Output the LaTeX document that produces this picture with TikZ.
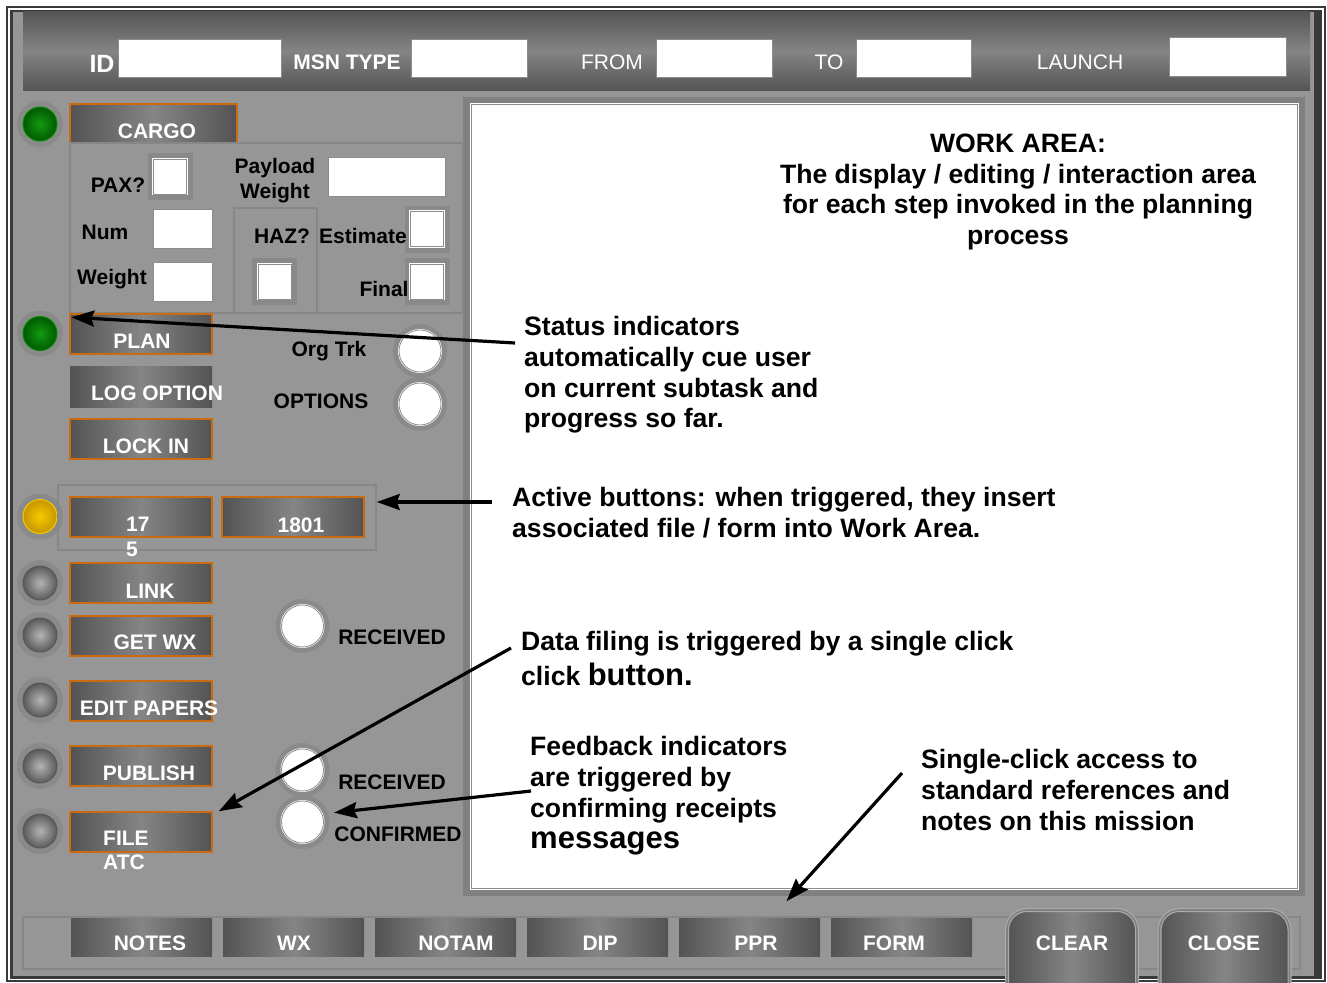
\documentclass[tikz,border=0pt]{standalone}
\usepackage{fontspec}
\setmainfont{Liberation Sans}
\usetikzlibrary{arrows.meta,positioning,calc}
\definecolor{framedark}{HTML}{3A3A3A}
\definecolor{panelgray}{HTML}{969696}
\definecolor{wellgray}{HTML}{808080}
\definecolor{lineg}{HTML}{878787}
\definecolor{barend}{HTML}{555555}
\definecolor{barmid}{HTML}{848484}
\definecolor{btndark}{HTML}{535353}
\definecolor{btnlight}{HTML}{858585}
\definecolor{btnedge}{HTML}{CC6A10}
\definecolor{fieldedge}{HTML}{8C8C8C}
\definecolor{chkgray}{HTML}{898989}
\definecolor{ringgray}{HTML}{8A8A8A}
\definecolor{tabedge}{HTML}{ABABAB}
\definecolor{greenin}{HTML}{129A12}
\definecolor{greenout}{HTML}{005A00}
\definecolor{yellowin}{HTML}{F6CB00}
\definecolor{yellowout}{HTML}{C69500}
\definecolor{grayin}{HTML}{B4B4B4}
\definecolor{grayout}{HTML}{5A5A5A}

\begin{document}
\begin{tikzpicture}[
    x=1pt, y=-1pt,
    >=Stealth,
    btn/.style={
        rectangle, draw=btnedge, line width=1.5pt,
        left color=btndark, right color=btndark, middle color=btnlight,
        minimum width=142pt, minimum height=40pt, inner sep=0pt
    },
    btnflat/.style={btn, draw=none},
    btntext/.style={
        font=\fontsize{21pt}{25pt}\selectfont\bfseries, text=white,
        inner sep=0pt, anchor=base
    },
    tab/.style={
        rectangle, rounded corners=20pt, draw=tabedge, line width=1.2pt,
        double=wellgray, double distance=1.6pt,
        left color=btndark, right color=btndark, middle color=btnlight,
        minimum width=130pt, minimum height=100pt, inner sep=0pt
    },
    field/.style={
        rectangle, fill=white, draw=fieldedge, line width=1pt, inner sep=0pt
    },
    chkbg/.style={
        rectangle, fill=chkgray, minimum width=45pt, minimum height=47pt, inner sep=0pt
    },
    chkbox/.style={
        rectangle, fill=white, draw=white, line width=2.4pt,
        minimum width=33pt, minimum height=35pt, inner sep=0pt,
        postaction={draw=fieldedge, line width=0.9pt}
    },
    radio/.style={circle, fill=ringgray, minimum size=54pt, inner sep=0pt},
    radiodot/.style={
        circle, fill=white, draw=white, line width=2pt, minimum size=42pt, inner sep=0pt,
        postaction={draw=fieldedge, line width=0.8pt}
    },
    led/.style={circle, fill=ringgray, minimum size=46pt, inner sep=0pt},
    ledon/.style={circle, minimum size=34pt, inner sep=0pt, inner color=greenin, outer color=greenout, draw=green!55!black, line width=1pt},
    ledwait/.style={circle, minimum size=34pt, inner sep=0pt, inner color=yellowin, outer color=yellowout, draw=yellowin, line width=1pt},
    ledoff/.style={circle, minimum size=34pt, inner sep=0pt, inner color=grayin, outer color=grayout, draw=black!65, line width=1pt},
    grpbox/.style={rectangle, draw=lineg, line width=1.5pt, inner sep=0pt},
    panelline/.style={draw=lineg, line width=1.5pt},
    lbl/.style={
        font=\fontsize{21pt}{25pt}\selectfont\bfseries, text=black,
        inner sep=0pt, anchor=base
    },
    toplbl/.style={
        font=\fontsize{21pt}{25pt}\selectfont, text=white,
        inner sep=0pt, anchor=base
    },
    note/.style={
        font=\fontsize{26.6pt}{30.8pt}\selectfont\bfseries, text=black,
        inner sep=0pt, align=left, anchor=north west
    },
    notearrow/.style={
        -{Stealth[length=23pt, width=16pt, inset=3pt]}, line width=3.2pt, draw=black
    }
]

\useasboundingbox (0,0) rectangle (1327,982);
\fill[white] (0,0) rectangle (1327,982);

% ==================== FRAME ====================
\draw[framedark, line width=1.2pt] (7,7) rectangle (1325,981);
\fill[framedark] (10,10) rectangle (1322,979);
\fill[panelgray] (13,12) rectangle (1314,976);

% ==================== TOP BAR ====================
\shade[top color=barend, bottom color=barend, middle color=barmid] (23,12) rectangle (1310,90);

\node[toplbl, font=\fontsize{25pt}{30pt}\selectfont\bfseries] (idlbl) at (102,72) {ID};
\node[field, minimum width=163pt, minimum height=37pt] (idbox) at (199.5,58.5) {};
\node[toplbl, font=\fontsize{21pt}{25pt}\selectfont\bfseries] (msnlbl) at (347,70) {MSN TYPE};
\node[field, minimum width=116pt, minimum height=37pt] (msnbox) at (469,58.5) {};
\node[toplbl] (fromlbl) at (612,70) {FROM};
\node[field, minimum width=116pt, minimum height=37pt] (frombox) at (714,58.5) {};
\node[toplbl] (tolbl) at (829,70) {TO};
\node[field, minimum width=115pt, minimum height=37pt] (tobox) at (913.5,58.5) {};
\node[toplbl] (launchlbl) at (1080,70) {LAUNCH};
\node[field, minimum width=117pt, minimum height=38pt] (launchbox) at (1227.5,57) {};

% ==================== WORK AREA ====================
\node[rectangle, fill=wellgray, minimum width=842pt, minimum height=799pt, inner sep=0pt] (well) at (884,496.5) {};
\node[rectangle, fill=white, draw=white, line width=3pt, minimum width=826pt, minimum height=784pt, inner sep=0pt,
      postaction={draw=fieldedge, line width=1pt}] (work) at (well) {};

\node[note, align=center, anchor=north] (worktxt) at (1018,133.5)
    {WORK AREA:\\The display / editing / interaction area\\for each step invoked in the planning\\process};

% ==================== CARGO ====================
\node[led] (led1) at (40,124) {};
\node[ledon] (led1in) at (led1) {};
\node[btn, minimum width=167pt, minimum height=39pt] (cargo) at (153.5,123.5) {};
\node[btntext] (cargotxt) at (157,138) {CARGO};

\draw[panelline] (70,143) rectangle (463,313);
\draw[panelline] (234,313) -- (234,208) -- (317,208) -- (317,313);

\node[chkbg] (paxbg) at (170,176.5) {};
\node[chkbox] (pax) at (paxbg) {};
\node[chkbg] (hazbg) at (274.5,281.5) {};
\node[chkbox] (haz) at (hazbg) {};
\node[chkbg] (estbg) at (427,229) {};
\node[chkbox] (est) at (estbg) {};
\node[chkbg] (finbg) at (427,281.5) {};
\node[chkbox] (fin) at (finbg) {};

\node[lbl] (paxlbl) at (118,192) {PAX?};
\node[lbl, align=center, anchor=north] (paylbl) at (275,158) {Payload\\Weight};
\node[field, minimum width=117pt, minimum height=39pt] (paybox) at (386.5,176.5) {};
\node[lbl] (numlbl) at (105,239) {Num};
\node[field, minimum width=59pt, minimum height=39pt] (numbox) at (182.5,228.5) {};
\node[lbl] (wtlbl) at (112,284) {Weight};
\node[field, minimum width=59pt, minimum height=39pt] (wtbox) at (182.5,281.5) {};
\node[lbl] (hazlbl) at (282,243) {HAZ?};
\node[lbl] (estlbl) at (363,243) {Estimate};
\node[lbl] (finlbl) at (384,296) {Final};

% ==================== PLAN ====================
\node[led] (led2) at (40,333.5) {};
\node[ledon] (led2in) at (led2) {};
\node[btn] (plan) at (141,334) {};
\node[btntext] (plantxt) at (142,348) {PLAN};
\node[btnflat, minimum height=41pt] (logopt) at (141,386.5) {};
\node[btntext] (logtxt) at (157,400) {LOG OPTION};
\node[btn] (lockin) at (141,439) {};
\node[btntext] (locktxt) at (146,453) {LOCK IN};

\node[lbl] (orglbl) at (329,356) {Org Trk};
\node[radio] (orgtrk) at (420,351) {};
\node[radiodot] (orgdot) at (orgtrk) {};
\node[lbl] (optlbl) at (321,408) {OPTIONS};
\node[radio] (options) at (420,404) {};
\node[radiodot] (optdot) at (options) {};

% ==================== FORMS ====================
\node[led] (led3) at (40,516.5) {};
\node[ledwait] (led3in) at (led3) {};
\node[grpbox, minimum width=318pt, minimum height=65pt] (grp) at (217,517.5) {};
\node[btn] (f175) at (141,517) {};
\node[btntext, align=left, anchor=north west] (f175txt) at (126,517) {17\\5};
\node[btn] (f1801) at (293,517) {};
\node[btntext] (f1801txt) at (301,532) {1801};

% ==================== FILING STEPS ====================
\node[led] (led4) at (40,583) {};
\node[ledoff] (led4in) at (led4) {};
\node[btn] (link) at (141,583) {};
\node[btntext] (linktxt) at (150,598) {LINK};

\node[led] (led5) at (40,635) {};
\node[ledoff] (led5in) at (led5) {};
\node[btn] (getwx) at (141,636) {};
\node[btntext] (getwxtxt) at (155,649) {GET WX};

\node[led] (led6) at (40,700) {};
\node[ledoff] (led6in) at (led6) {};
\node[btn] (editp) at (141,701) {};
\node[btntext] (editptxt) at (149,715) {EDIT PAPERS};

\node[led] (led7) at (40,766) {};
\node[ledoff] (led7in) at (led7) {};
\node[btn] (publish) at (141,766) {};
\node[btntext] (publishtxt) at (149,780) {PUBLISH};

\node[led] (led8) at (40,831) {};
\node[ledoff] (led8in) at (led8) {};
\node[btn] (fileatc) at (141,832) {};
\node[btntext, align=left, anchor=north west, font=\fontsize{21pt}{24pt}\selectfont\bfseries] (fileatctxt) at (103,831) {FILE\\ATC};

\node[radio] (recv1) at (302.5,626) {};
\node[radiodot] (recv1dot) at (recv1) {};
\node[lbl] (recv1lbl) at (392,644) {RECEIVED};
\node[radio] (recv2) at (302.5,770) {};
\node[radiodot] (recv2dot) at (recv2) {};
\node[lbl] (recv2lbl) at (392,789) {RECEIVED};
\node[radio] (confirmed) at (302.5,822) {};
\node[radiodot] (confdot) at (confirmed) {};
\node[lbl] (conflbl) at (398,841) {CONFIRMED};

% ==================== BOTTOM BAR ====================
\node[grpbox, minimum width=1277pt, minimum height=52pt] (bottombar) at (661.5,943) {};
\node[btnflat, minimum width=141pt, minimum height=38pt] (notes) at (141.5,937) {};
\node[btntext] (notestxt) at (150,950) {NOTES};
\node[btnflat, minimum width=141pt, minimum height=38pt] (wx) at (293.5,937) {};
\node[btntext] (wxtxt) at (294,950) {WX};
\node[btnflat, minimum width=141pt, minimum height=38pt] (notam) at (445.5,937) {};
\node[btntext] (notamtxt) at (456,950) {NOTAM};
\node[btnflat, minimum width=141pt, minimum height=38pt] (dip) at (597.5,937) {};
\node[btntext] (diptxt) at (600,950) {DIP};
\node[btnflat, minimum width=141pt, minimum height=38pt] (ppr) at (749.5,937) {};
\node[btntext] (pprtxt) at (756,950) {PPR};
\node[btnflat, minimum width=141pt, minimum height=38pt] (form) at (901.5,937) {};
\node[btntext] (formtxt) at (894,950) {FORM};

\node[tab] (clear) at (1072,960) {};
\node[btntext] (cleartxt) at (1072,950) {CLEAR};
\node[tab] (close) at (1224.5,960) {};
\node[btntext] (closetxt) at (1224,950) {CLOSE};

% ==================== NOTES ====================
\node[note] (statustxt) at (524,316)
    {Status indicators\\automatically cue user\\on current subtask and\\progress so far.};
\node[note] (activetxt) at (512,487.5)
    {Active buttons: when triggered, they insert\\associated file / form into Work Area.};
\node[note] (filingtxt) at (521,631)
    {Data filing is triggered by a single click\\[4pt]click {\fontsize{31pt}{34pt}\selectfont button.}};
\node[note] (feedtxt) at (530,736.5)
    {Feedback indicators\\are triggered by\\confirming receipts\\{\fontsize{31pt}{34pt}\selectfont messages}};
\node[note] (singletxt) at (921,749.5)
    {Single-click access to\\standard references and\\notes on this mission};

% ==================== ARROWS ====================
\coordinate (statustail) at (515,343);
\coordinate (activetail) at (492,502);
\coordinate (filingtail) at (511,648);
\coordinate (feedtail) at (531,791);
\coordinate (singletail) at (902,773);

\draw[notearrow] (statustail) -- ([shift={(2,4)}]plan.north west);
\draw[notearrow] (activetail) -- (activetail -| grp.east);
\draw[notearrow] (filingtail) -- ([xshift=6pt]fileatc.north east);
\draw[notearrow] (feedtail) -- ([xshift=6pt]confirmed.20);
\draw[notearrow] (singletail) -- ([shift={(37,-16)}]ppr.north);

\end{tikzpicture}
\end{document}
